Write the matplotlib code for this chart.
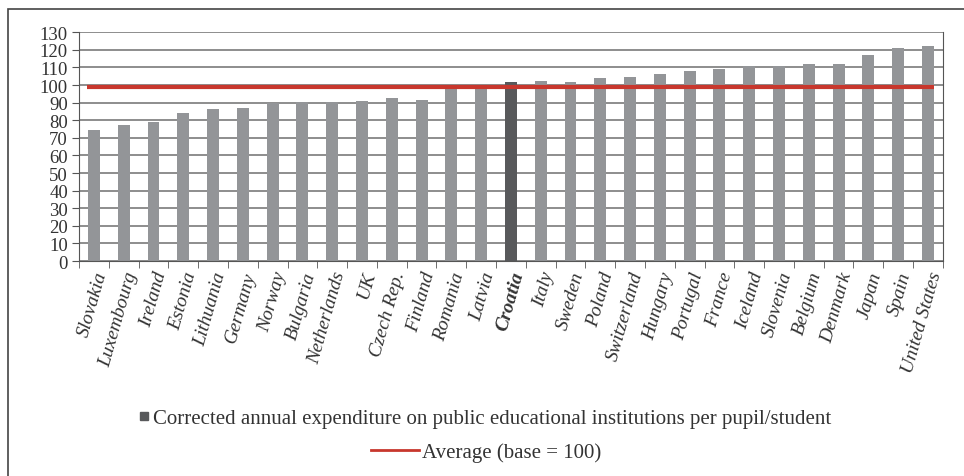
import numpy as np
import matplotlib.pyplot as plt
from matplotlib.lines import Line2D
from matplotlib.patches import Rectangle

countries = ['Slovakia', 'Luxembourg', 'Ireland', 'Estonia', 'Lithuania', 'Germany',
             'Norway', 'Bulgaria', 'Netherlands', 'UK', 'Czech Rep.', 'Finland',
             'Romania', 'Latvia', 'Croatia', 'Italy', 'Sweden', 'Poland',
             'Switzerland', 'Hungary', 'Portugal', 'France', 'Iceland', 'Slovenia',
             'Belgium', 'Denmark', 'Japan', 'Spain', 'United States']
values = [74.4, 77.2, 78.9, 84.0, 86.3, 86.9, 89.7, 90.1, 90.1, 90.8, 92.5, 91.4,
          99.0, 99.5, 101.6, 102.2, 101.6, 103.9, 104.5, 106.2, 107.9, 109.0,
          110.7, 110.7, 111.8, 111.8, 116.9, 120.9, 122.0]
average = 99
highlight = 'Croatia'

bar_color = '#939598'
hl_color = '#58595b'
red = '#c8372d'
text_color = '#333333'

plt.rcParams['font.family'] = ['Liberation Serif', 'DejaVu Serif']

fig = plt.figure(figsize=(9.64, 4.77), dpi=100)
ax = fig.add_axes([0.082, 0.4507, 0.896, 0.4795])

x = np.arange(len(countries))
colors = [hl_color if c == highlight else bar_color for c in countries]
ax.bar(x, values, width=0.4, color=colors, zorder=2)
ax.hlines(average, -0.22, len(countries) - 1 + 0.22, color=red, lw=3, zorder=3)

ax.set_xlim(-0.5, len(countries) - 0.5)
ax.set_ylim(0, 130)
ax.set_yticks(range(0, 131, 10))
ax.yaxis.grid(True, color='#6f6f6f', lw=1.1, zorder=0)
ax.set_axisbelow(True)

ax.set_xticks(x)
ax.set_xticklabels(countries, rotation=74, ha='right', rotation_mode='anchor',
                   style='italic', fontsize=14, color=text_color)
for lab in ax.get_xticklabels():
    if lab.get_text() == highlight:
        lab.set_fontweight('bold')
ax.set_xticks(np.arange(-0.5, len(countries)), minor=True)
ax.tick_params(axis='x', which='major', length=0, pad=6)
ax.tick_params(axis='x', which='minor', length=5, color='#555555')
ax.tick_params(axis='y', length=5, color='#555555', labelsize=13.5, labelcolor=text_color, pad=3)

ax.spines['top'].set_visible(False)
for s in ['left', 'right', 'bottom']:
    ax.spines[s].set_color('#555555')

# legend entries, each centred on its own row
h1 = Line2D([], [], marker='s', color=hl_color, ls='none', markersize=6)
h2 = Line2D([], [], color=red, lw=2)
fig.legend([h1], ['Corrected annual expenditure on public educational institutions per pupil/student'],
           loc='center', bbox_to_anchor=(485 / 964, 1 - 419 / 477), frameon=False,
           handlelength=0.5, handletextpad=0.15, fontsize=15, labelcolor=text_color,
           borderpad=0, borderaxespad=0)
fig.legend([h2], ['Average (base = 100)'],
           loc='center', bbox_to_anchor=(486 / 964, 1 - 453 / 477), frameon=False,
           handlelength=2.3, handletextpad=0.15, fontsize=15, labelcolor=text_color,
           borderpad=0, borderaxespad=0)

# outer frame
fig.patches.append(Rectangle((8 / 964, -0.1), 1.2, 1.1 - 10 / 477, transform=fig.transFigure,
                             fill=False, edgecolor='#444444', lw=1.2))

fig.savefig('out.png', dpi=100)
